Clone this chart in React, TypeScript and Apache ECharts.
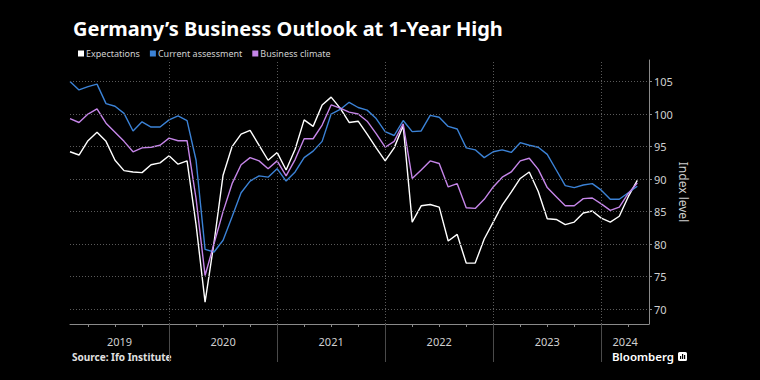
import React, { useEffect, useRef } from "react";
import * as echarts from "echarts";

// Monthly observations (end of month), Jan 2019 – Apr 2024
const months: string[] = [
  "2019-01", "2019-02", "2019-03", "2019-04", "2019-05", "2019-06", "2019-07", "2019-08", "2019-09", "2019-10", "2019-11", "2019-12",
  "2020-01", "2020-02", "2020-03", "2020-04", "2020-05", "2020-06", "2020-07", "2020-08", "2020-09", "2020-10", "2020-11", "2020-12",
  "2021-01", "2021-02", "2021-03", "2021-04", "2021-05", "2021-06", "2021-07", "2021-08", "2021-09", "2021-10", "2021-11", "2021-12",
  "2022-01", "2022-02", "2022-03", "2022-04", "2022-05", "2022-06", "2022-07", "2022-08", "2022-09", "2022-10", "2022-11", "2022-12",
  "2023-01", "2023-02", "2023-03", "2023-04", "2023-05", "2023-06", "2023-07", "2023-08", "2023-09", "2023-10", "2023-11", "2023-12",
  "2024-01", "2024-02", "2024-03", "2024-04",
];

const expectations: number[] = [
  94.2, 93.7, 95.9, 97.2, 95.8, 92.9, 91.3, 91.1, 91.0, 92.2, 92.5, 93.6,
  92.3, 92.8, 83.0, 71.1, 80.3, 90.6, 95.0, 96.9, 97.5, 95.2, 92.9, 94.1,
  91.4, 94.6, 99.1, 98.1, 101.4, 102.6, 100.9, 98.7, 98.9, 96.9, 94.8, 92.8,
  94.8, 98.2, 83.4, 85.9, 86.1, 85.7, 80.5, 81.5, 77.1, 77.1, 80.8, 83.4,
  86.0, 88.0, 90.1, 91.1, 88.1, 83.9, 83.8, 83.0, 83.4, 84.8, 85.1, 84.0,
  83.4, 84.3, 87.3, 89.8,
];

const currentAssessment: number[] = [
  105.0, 103.7, 104.2, 104.6, 101.6, 101.2, 100.1, 97.4, 98.8, 98.0, 98.0, 99.1,
  99.7, 99.0, 92.9, 79.2, 78.8, 80.6, 84.2, 87.9, 89.7, 90.5, 90.3, 91.6,
  89.7, 91.1, 93.3, 94.3, 95.8, 100.0, 100.7, 101.8, 101.0, 100.6, 99.3, 97.3,
  96.7, 99.0, 97.3, 97.4, 99.8, 99.5, 98.1, 97.7, 94.8, 94.5, 93.3, 94.2,
  94.5, 94.1, 95.6, 95.2, 94.9, 93.8, 91.4, 89.0, 88.7, 89.1, 89.3, 88.3,
  86.9, 86.9, 87.9, 88.9,
];

const businessClimate: number[] = [
  99.3, 98.7, 100.0, 100.8, 98.6, 97.2, 95.8, 94.2, 94.8, 94.9, 95.2, 96.3,
  95.9, 95.9, 87.0, 75.2, 80.1, 85.0, 89.3, 92.2, 93.3, 92.8, 91.6, 92.8,
  90.5, 93.0, 96.2, 96.2, 98.3, 101.4, 100.9, 100.3, 100.0, 98.9, 97.0, 94.9,
  95.8, 98.5, 90.1, 91.4, 92.8, 92.4, 88.8, 89.3, 85.6, 85.5, 86.9, 88.8,
  90.3, 91.1, 92.8, 93.2, 91.5, 88.7, 87.3, 85.9, 85.9, 87.0, 87.1, 86.2,
  85.2, 85.7, 87.8, 89.4,
];

const seriesNames = ["Expectations", "Current assessment", "Business climate"];
const seriesColors = ["#ffffff", "#3b82d6", "#c585e8"];
const years = ["2019", "2020", "2021", "2022", "2023", "2024"];
const yTicks = [70, 75, 80, 85, 90, 95, 100, 105];

const BASE_YEAR = 2019;
const monthIndex = (ym: string) => {
  const [y, m] = ym.split("-").map(Number);
  return (y - BASE_YEAR) * 12 + m;
};

const X_MIN = monthIndex(months[0]);
const X_MAX = 65.3;
const Y_MIN = 67.74;
const Y_MAX = 108.3;

const yearBoundaries = years.slice(1).map((_, i) => (i + 1) * 12);
const quarterTicks: number[] = [];
for (let q = 3; q < X_MAX; q += 3) if (q % 12 !== 0) quarterTicks.push(q);
const yearLabelPos = years.map((_, i) => (Math.max(i * 12, X_MIN) + Math.min((i + 1) * 12, X_MAX)) / 2);

export default function App() {
  const ref = useRef<HTMLDivElement>(null);

  useEffect(() => {
    if (!ref.current) return;
    const chart = echarts.init(ref.current, undefined, { renderer: "svg" });
    const toPairs = (vals: number[]) => months.map((m, i) => [monthIndex(m), vals[i]]);
    const dataSets = [expectations, currentAssessment, businessClimate];

    const option: any = {
      animation: false,
      backgroundColor: "#000000",
      textStyle: { fontFamily: "Noto Sans" },
      title: {
        text: "Germany’s Business Outlook at 1-Year High",
        left: 68,
        top: 13,
        textStyle: { color: "#ffffff", fontSize: 20, fontWeight: "bold", fontFamily: "Noto Sans" },
      },
      legend: {
        data: seriesNames,
        left: 73,
        top: 44,
        icon: "rect",
        itemWidth: 6,
        itemHeight: 6,
        itemGap: 10,
        selectedMode: false,
        textStyle: { color: "#d0d0d0", fontSize: 9, fontFamily: "Noto Sans", padding: [0, 0, 0, -3] },
      },
      grid: { left: 70, right: 111, top: 60, bottom: 56 },
      xAxis: [
        {
          type: "value",
          min: X_MIN,
          max: X_MAX,
          position: "bottom",
          axisLine: { show: true, lineStyle: { color: "#8a8a8a", width: 1 } },
          axisTick: { show: true, customValues: quarterTicks, length: 3, lineStyle: { color: "#8a8a8a" } },
          axisLabel: { show: false },
          splitLine: { show: false },
        },
        {
          type: "value",
          min: X_MIN,
          max: X_MAX,
          position: "bottom",
          axisLine: { show: false },
          axisTick: { show: true, customValues: yearBoundaries, length: 38, lineStyle: { color: "#4a4a4a" } },
          axisLabel: {
            show: true,
            customValues: yearLabelPos,
            formatter: (v: number) => years[Math.floor(v / 12)] ?? "",
            color: "#d0d0d0",
            fontSize: 11,
            margin: 12,
          },
          splitLine: { show: false },
        },
      ],
      yAxis: {
        type: "value",
        position: "right",
        min: Y_MIN,
        max: Y_MAX,
        axisLine: { show: true, lineStyle: { color: "#8a8a8a", width: 1 } },
        axisTick: { show: true, customValues: yTicks, length: 3, lineStyle: { color: "#8a8a8a" } },
        axisLabel: { show: true, customValues: yTicks, color: "#d0d0d0", fontSize: 11, margin: 5 },
        splitLine: { show: false },
        name: "Index level",
        nameLocation: "middle",
        nameRotate: -90,
        nameGap: 28,
        nameMoveOverlap: false,
        nameTextStyle: { color: "#d0d0d0", fontSize: 12 },
      },
      series: [
        {
          name: "grid",
          type: "line",
          data: [],
          z: 1,
          markLine: {
            silent: true,
            symbol: ["none", "none"],
            label: { show: false },
            lineStyle: { type: [1, 2], color: "#5a5a5a", width: 1 },
            data: [
              ...yTicks.map((v) => ({ yAxis: v })),
              ...yearBoundaries.map((x) => ({ xAxis: x })),
            ],
          },
        },
        ...seriesNames.map((name, i) => ({
          name,
          type: "line",
          data: toPairs(dataSets[i]),
          showSymbol: false,
          symbol: "none",
          z: 2 + i,
          lineStyle: { color: seriesColors[i], width: 1.4 },
          itemStyle: { color: seriesColors[i] },
        })),
      ],
      graphic: [
        {
          type: "text",
          left: 72,
          top: 352,
          style: { text: "Source: Ifo Institute", fill: "#e0e0e0", fontSize: 10, fontWeight: "bold", fontFamily: "Noto Sans" },
        },
        {
          type: "text",
          left: 612,
          top: 350,
          style: { text: "Bloomberg", fill: "#ffffff", fontSize: 11.5, fontWeight: 600, fontFamily: "Noto Sans" },
        },
        {
          type: "group",
          left: 678,
          top: 352,
          children: [
            { type: "rect", shape: { x: 0, y: 0, width: 9, height: 9, r: 1.5 }, style: { fill: "#ffffff" } },
            { type: "rect", shape: { x: 2, y: 4, width: 1.2, height: 3 }, style: { fill: "#000000" } },
            { type: "rect", shape: { x: 4, y: 2, width: 1.2, height: 5 }, style: { fill: "#000000" } },
            { type: "rect", shape: { x: 6, y: 3, width: 1.2, height: 4 }, style: { fill: "#000000" } },
          ],
        },
      ],
    };

    chart.setOption(option);
    return () => chart.dispose();
  }, []);

  return (
    <div
      ref={ref}
      style={{ position: "fixed", left: 0, top: 0, width: 760, height: 380, background: "#000" }}
    />
  );
}
